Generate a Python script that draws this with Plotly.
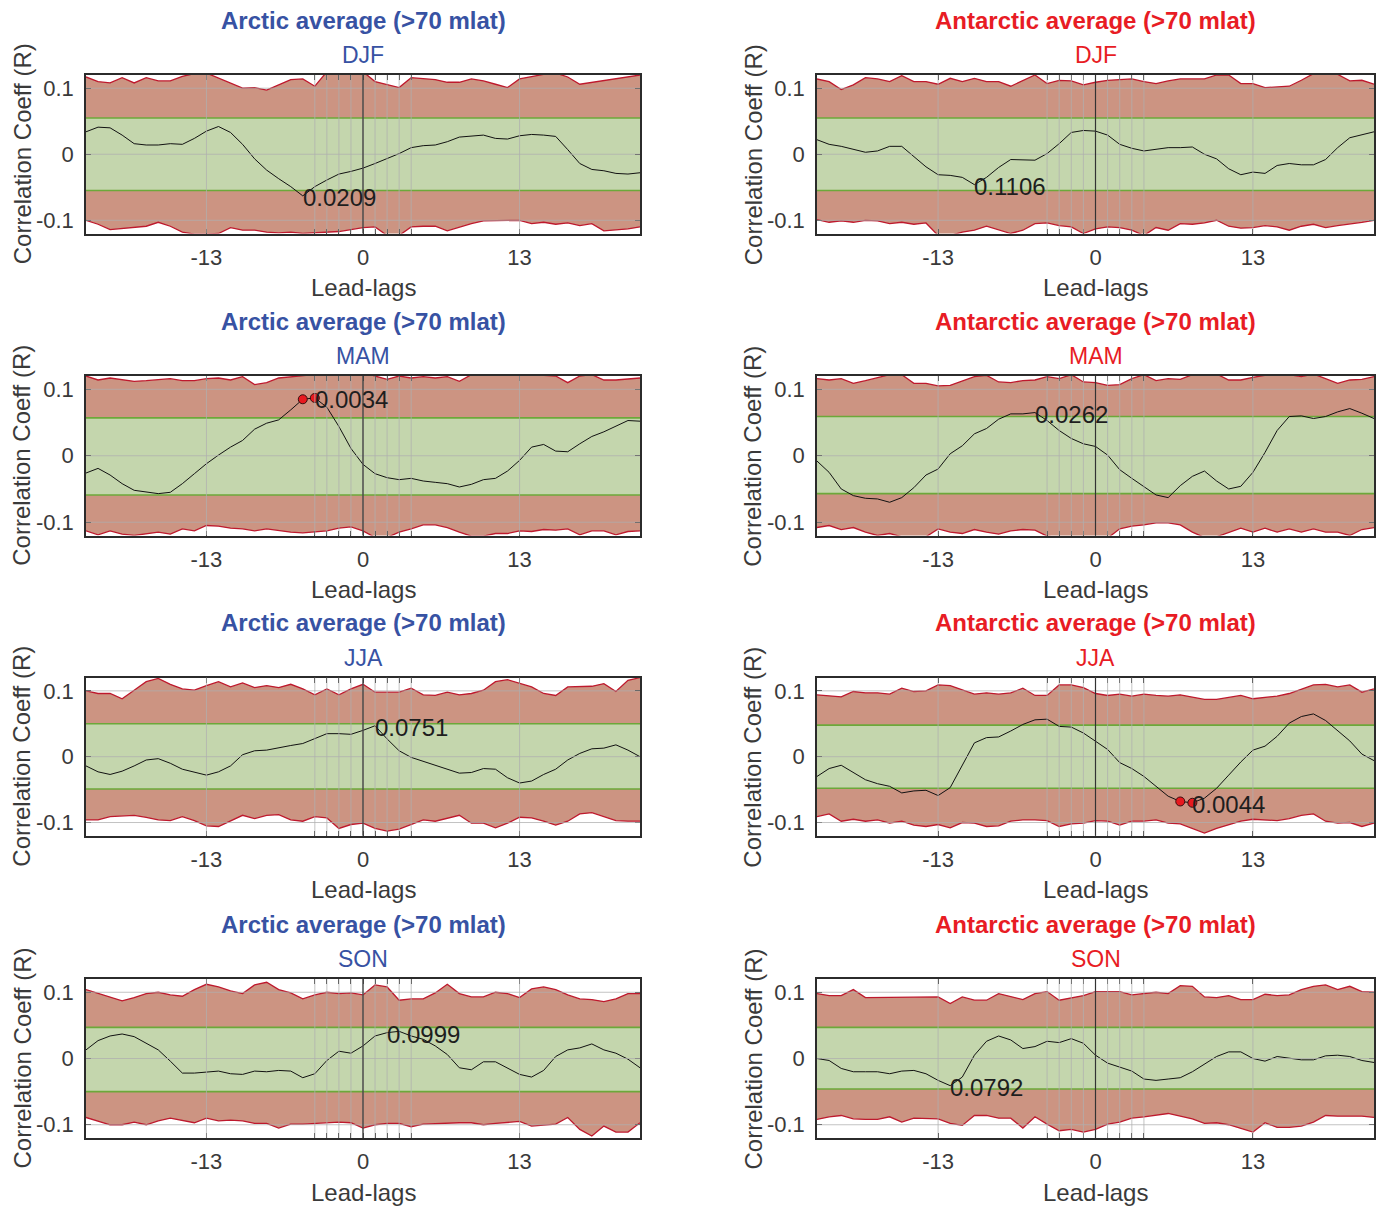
import plotly.graph_objects as go

# ---------------- data ----------------
LAGS = list(range(-23, 24))
XTICK_VALS = [-13, -4, -3, -2, -1, 0, 1, 2, 3, 4, 13]
XTICK_TEXT = ["-13", "", "", "", "", "0", "", "", "", "", "13"]
YTICK_VALS = [-0.1, 0, 0.1]
YTICK_TEXT = ["-0.1", "0", "0.1"]

REGION_TITLES = ["Arctic average (>70 mlat)", "Antarctic average (>70 mlat)"]
SEASONS = ["DJF", "MAM", "JJA", "SON"]

# correlation series (lags -23..23)
ARC_DJF_R = [0.034, 0.041, 0.040, 0.029, 0.016, 0.014, 0.014, 0.016, 0.015, 0.024,
             0.035, 0.042, 0.033, 0.015, -0.007, -0.024, -0.037, -0.049, -0.063, -0.049,
             -0.039, -0.030, -0.026, -0.021, -0.014, -0.007, 0.001, 0.010, 0.013, 0.014,
             0.019, 0.026, 0.028, 0.029, 0.024, 0.023, 0.028, 0.030, 0.029, 0.027,
             0.007, -0.014, -0.023, -0.025, -0.029, -0.030, -0.028]
ARC_DJF_UP = [0.117, 0.110, 0.108, 0.116, 0.108, 0.116, 0.111, 0.111, 0.118, 0.122,
              0.123, 0.115, 0.107, 0.100, 0.101, 0.097, 0.105, 0.113, 0.114, 0.103,
              0.125, 0.130, 0.130, 0.125, 0.110, 0.105, 0.101, 0.116, 0.115, 0.113,
              0.109, 0.109, 0.114, 0.111, 0.106, 0.101, 0.114, 0.118, 0.121, 0.123,
              0.117, 0.106, 0.109, 0.111, 0.114, 0.118, 0.120]
ARC_DJF_LO = [-0.100, -0.106, -0.114, -0.112, -0.110, -0.109, -0.103, -0.109, -0.118, -0.121,
              -0.121, -0.120, -0.111, -0.115, -0.115, -0.118, -0.119, -0.118, -0.120, -0.119,
              -0.119, -0.117, -0.114, -0.111, -0.110, -0.123, -0.123, -0.110, -0.109, -0.109,
              -0.116, -0.110, -0.105, -0.101, -0.101, -0.100, -0.100, -0.105, -0.103, -0.106,
              -0.104, -0.108, -0.105, -0.116, -0.115, -0.113, -0.110]

ANT_DJF_R = [0.022, 0.015, 0.012, 0.008, 0.003, 0.005, 0.012, 0.012, -0.004, -0.019,
             -0.031, -0.032, -0.035, -0.046, -0.035, -0.020, -0.008, -0.009, -0.009, 0.001,
             0.016, 0.033, 0.036, 0.035, 0.029, 0.015, 0.009, 0.005, 0.008, 0.010,
             0.010, 0.011, 0.000, -0.007, -0.022, -0.031, -0.027, -0.029, -0.017, -0.014,
             -0.016, -0.016, -0.008, 0.010, 0.025, 0.029, 0.034]
ANT_DJF_UP = [0.114, 0.110, 0.098, 0.105, 0.116, 0.114, 0.110, 0.119, 0.110, 0.110,
              0.106, 0.115, 0.110, 0.115, 0.110, 0.110, 0.103, 0.111, 0.120, 0.107,
              0.112, 0.111, 0.105, 0.109, 0.112, 0.113, 0.114, 0.110, 0.107, 0.111,
              0.114, 0.114, 0.114, 0.120, 0.120, 0.107, 0.107, 0.101, 0.102, 0.103,
              0.112, 0.122, 0.121, 0.121, 0.111, 0.112, 0.106]
ANT_DJF_LO = [-0.099, -0.103, -0.101, -0.103, -0.100, -0.101, -0.105, -0.103, -0.106, -0.104,
              -0.123, -0.123, -0.118, -0.115, -0.109, -0.114, -0.120, -0.115, -0.105, -0.104,
              -0.108, -0.110, -0.120, -0.113, -0.110, -0.111, -0.115, -0.123, -0.111, -0.115,
              -0.105, -0.106, -0.104, -0.100, -0.109, -0.112, -0.111, -0.108, -0.110, -0.115,
              -0.109, -0.106, -0.111, -0.108, -0.106, -0.103, -0.100]

ARC_MAM_R = [-0.026, -0.019, -0.029, -0.042, -0.052, -0.055, -0.057, -0.055, -0.042, -0.027,
             -0.012, 0.001, 0.013, 0.023, 0.040, 0.049, 0.054, 0.069, 0.085, 0.087,
             0.073, 0.044, 0.011, -0.013, -0.027, -0.033, -0.036, -0.034, -0.038, -0.040,
             -0.042, -0.047, -0.043, -0.036, -0.034, -0.023, -0.007, 0.013, 0.017, 0.007,
             0.006, 0.018, 0.029, 0.036, 0.045, 0.053, 0.052]
ARC_MAM_UP = [0.120, 0.114, 0.117, 0.115, 0.112, 0.113, 0.115, 0.116, 0.113, 0.113,
              0.116, 0.117, 0.114, 0.119, 0.107, 0.110, 0.117, 0.119, 0.121, 0.122,
              0.124, 0.124, 0.124, 0.125, 0.120, 0.115, 0.120, 0.117, 0.119, 0.117,
              0.119, 0.112, 0.122, 0.124, 0.125, 0.124, 0.124, 0.123, 0.121, 0.120,
              0.110, 0.120, 0.122, 0.114, 0.114, 0.116, 0.117]
ARC_MAM_LO = [-0.113, -0.119, -0.113, -0.118, -0.120, -0.118, -0.115, -0.118, -0.110, -0.113,
              -0.105, -0.106, -0.109, -0.110, -0.113, -0.110, -0.113, -0.115, -0.116, -0.115,
              -0.113, -0.109, -0.107, -0.113, -0.123, -0.123, -0.115, -0.110, -0.104, -0.104,
              -0.108, -0.115, -0.121, -0.121, -0.117, -0.117, -0.113, -0.114, -0.111, -0.112,
              -0.110, -0.119, -0.113, -0.113, -0.119, -0.114, -0.113]

ANT_MAM_R = [-0.008, -0.025, -0.050, -0.060, -0.064, -0.065, -0.070, -0.063, -0.048, -0.029,
             -0.020, 0.003, 0.015, 0.033, 0.041, 0.055, 0.063, 0.063, 0.065, 0.053,
             0.038, 0.026, 0.018, 0.014, 0.001, -0.021, -0.034, -0.046, -0.059, -0.063,
             -0.045, -0.031, -0.023, -0.038, -0.050, -0.046, -0.025, 0.005, 0.038, 0.059,
             0.060, 0.056, 0.059, 0.066, 0.071, 0.064, 0.056]
ANT_MAM_UP = [0.116, 0.114, 0.116, 0.109, 0.113, 0.118, 0.122, 0.122, 0.109, 0.109,
              0.105, 0.106, 0.113, 0.119, 0.121, 0.111, 0.110, 0.113, 0.114, 0.119,
              0.116, 0.122, 0.111, 0.110, 0.106, 0.107, 0.116, 0.122, 0.113, 0.116,
              0.115, 0.122, 0.123, 0.123, 0.114, 0.114, 0.118, 0.121, 0.122, 0.122,
              0.119, 0.123, 0.116, 0.109, 0.114, 0.115, 0.119]
ANT_MAM_LO = [-0.108, -0.105, -0.111, -0.108, -0.115, -0.120, -0.117, -0.122, -0.123, -0.122,
              -0.110, -0.115, -0.117, -0.111, -0.115, -0.118, -0.113, -0.111, -0.112, -0.121,
              -0.123, -0.124, -0.124, -0.124, -0.124, -0.110, -0.106, -0.104, -0.101, -0.101,
              -0.104, -0.115, -0.123, -0.122, -0.115, -0.109, -0.115, -0.109, -0.115, -0.110,
              -0.115, -0.110, -0.115, -0.115, -0.120, -0.111, -0.108]

ARC_JJA_R = [-0.014, -0.023, -0.027, -0.022, -0.014, -0.005, -0.003, -0.010, -0.019, -0.024,
             -0.028, -0.023, -0.014, 0.003, 0.009, 0.010, 0.014, 0.017, 0.020, 0.028,
             0.035, 0.035, 0.034, 0.040, 0.047, 0.027, 0.009, -0.001, -0.007, -0.013,
             -0.020, -0.025, -0.024, -0.018, -0.019, -0.032, -0.040, -0.037, -0.027, -0.019,
             -0.005, 0.005, 0.012, 0.013, 0.018, 0.010, 0.000]
ARC_JJA_UP = [0.100, 0.096, 0.096, 0.088, 0.101, 0.114, 0.119, 0.110, 0.103, 0.101,
              0.108, 0.114, 0.106, 0.112, 0.105, 0.108, 0.105, 0.110, 0.103, 0.094,
              0.103, 0.094, 0.103, 0.110, 0.098, 0.098, 0.098, 0.104, 0.094, 0.093,
              0.098, 0.094, 0.096, 0.101, 0.114, 0.117, 0.111, 0.106, 0.096, 0.093,
              0.106, 0.106, 0.107, 0.111, 0.099, 0.116, 0.120]
ARC_JJA_LO = [-0.096, -0.096, -0.091, -0.090, -0.089, -0.092, -0.096, -0.097, -0.091, -0.097,
              -0.105, -0.106, -0.097, -0.089, -0.094, -0.089, -0.088, -0.096, -0.098, -0.091,
              -0.093, -0.109, -0.103, -0.101, -0.109, -0.113, -0.110, -0.103, -0.096, -0.098,
              -0.094, -0.089, -0.101, -0.101, -0.108, -0.101, -0.092, -0.093, -0.098, -0.104,
              -0.098, -0.087, -0.085, -0.091, -0.097, -0.098, -0.098]

ANT_JJA_R = [-0.030, -0.018, -0.013, -0.024, -0.035, -0.041, -0.045, -0.055, -0.052, -0.051,
             -0.059, -0.047, -0.014, 0.021, 0.029, 0.030, 0.039, 0.049, 0.056, 0.057,
             0.046, 0.045, 0.036, 0.023, 0.011, -0.009, -0.018, -0.030, -0.045, -0.060,
             -0.068, -0.070, -0.063, -0.048, -0.028, -0.008, 0.010, 0.016, 0.031, 0.051,
             0.061, 0.065, 0.055, 0.040, 0.024, 0.004, -0.006]
ANT_JJA_UP = [0.094, 0.092, 0.091, 0.099, 0.097, 0.097, 0.095, 0.104, 0.099, 0.100,
              0.109, 0.108, 0.101, 0.095, 0.097, 0.095, 0.097, 0.104, 0.093, 0.093,
              0.109, 0.109, 0.105, 0.096, 0.093, 0.095, 0.092, 0.095, 0.093, 0.092,
              0.094, 0.090, 0.087, 0.087, 0.090, 0.093, 0.088, 0.090, 0.092, 0.096,
              0.103, 0.109, 0.110, 0.106, 0.109, 0.098, 0.103]
ANT_JJA_LO = [-0.091, -0.087, -0.098, -0.095, -0.098, -0.096, -0.101, -0.098, -0.104, -0.106,
              -0.103, -0.108, -0.100, -0.101, -0.106, -0.105, -0.098, -0.096, -0.096, -0.097,
              -0.106, -0.102, -0.101, -0.097, -0.098, -0.104, -0.098, -0.098, -0.096, -0.101,
              -0.102, -0.109, -0.116, -0.109, -0.104, -0.098, -0.095, -0.096, -0.097, -0.094,
              -0.089, -0.087, -0.098, -0.101, -0.100, -0.106, -0.101]

ARC_SON_R = [0.013, 0.027, 0.034, 0.037, 0.033, 0.023, 0.013, -0.004, -0.022, -0.022,
             -0.021, -0.019, -0.023, -0.024, -0.019, -0.020, -0.018, -0.019, -0.029, -0.023,
             -0.003, 0.011, 0.008, 0.019, 0.034, 0.039, 0.041, 0.034, 0.029, 0.019,
             0.006, -0.014, -0.017, -0.005, -0.005, -0.015, -0.024, -0.028, -0.018, 0.003,
             0.013, 0.016, 0.022, 0.013, 0.008, -0.001, -0.014]
ARC_SON_UP = [0.104, 0.098, 0.092, 0.087, 0.092, 0.098, 0.100, 0.096, 0.094, 0.104,
              0.112, 0.108, 0.102, 0.098, 0.111, 0.115, 0.104, 0.099, 0.090, 0.096,
              0.100, 0.098, 0.099, 0.096, 0.111, 0.108, 0.088, 0.090, 0.090, 0.099,
              0.112, 0.098, 0.093, 0.093, 0.100, 0.098, 0.092, 0.105, 0.108, 0.104,
              0.096, 0.090, 0.089, 0.086, 0.090, 0.098, 0.098]
ARC_SON_LO = [-0.089, -0.094, -0.100, -0.100, -0.096, -0.100, -0.094, -0.090, -0.093, -0.097,
              -0.090, -0.094, -0.093, -0.094, -0.098, -0.098, -0.105, -0.099, -0.099, -0.098,
              -0.098, -0.096, -0.097, -0.105, -0.100, -0.098, -0.098, -0.103, -0.099, -0.098,
              -0.098, -0.097, -0.097, -0.100, -0.098, -0.096, -0.095, -0.102, -0.101, -0.099,
              -0.089, -0.107, -0.117, -0.102, -0.111, -0.111, -0.097]

ANT_SON_R = [0.000, -0.003, -0.015, -0.020, -0.020, -0.020, -0.023, -0.019, -0.018, -0.023,
             -0.033, -0.041, -0.028, 0.005, 0.026, 0.034, 0.028, 0.015, 0.018, 0.026,
             0.024, 0.030, 0.023, 0.005, -0.007, -0.013, -0.019, -0.031, -0.033, -0.031,
             -0.029, -0.020, -0.009, 0.003, 0.010, 0.010, 0.000, -0.004, 0.003, 0.001,
             -0.002, -0.002, 0.004, 0.005, 0.003, -0.003, -0.006]
ANT_SON_UP = [0.098, 0.095, 0.095, 0.104, 0.092, 0.092, 0.092, 0.092, 0.093, 0.092,
              0.093, 0.083, 0.093, 0.088, 0.088, 0.098, 0.094, 0.089, 0.098, 0.101,
              0.088, 0.092, 0.095, 0.101, 0.101, 0.101, 0.096, 0.098, 0.100, 0.098,
              0.110, 0.109, 0.093, 0.092, 0.095, 0.089, 0.089, 0.097, 0.095, 0.096,
              0.104, 0.109, 0.111, 0.104, 0.109, 0.101, 0.100]
ANT_SON_LO = [-0.092, -0.088, -0.086, -0.091, -0.092, -0.092, -0.088, -0.096, -0.090, -0.091,
              -0.091, -0.098, -0.101, -0.086, -0.086, -0.090, -0.090, -0.105, -0.088, -0.099,
              -0.109, -0.107, -0.111, -0.107, -0.099, -0.096, -0.090, -0.088, -0.085, -0.083,
              -0.087, -0.091, -0.098, -0.097, -0.100, -0.105, -0.111, -0.097, -0.104, -0.104,
              -0.102, -0.096, -0.086, -0.087, -0.087, -0.087, -0.089]

# inner (green) band levels per panel, order: DJF, MAM, JJA, SON
GREEN_HI = {"ARC": [0.055, 0.057, 0.050, 0.047], "ANT": [0.055, 0.059, 0.048, 0.047]}
GREEN_LO = {"ARC": [-0.055, -0.059, -0.049, -0.050], "ANT": [-0.055, -0.057, -0.048, -0.046]}

# labelled point (p-value text) and significant points per panel
ANNOT_TEXT = {"ARC": ["0.0209", "0.0034", "0.0751", "0.0999"],
              "ANT": ["0.1106", "0.0262", "0.0044", "0.0792"]}
ANNOT_LAG = {"ARC": [-5, -4, 1, 2], "ANT": [-10, -5, 8, -12]}
SIG_LAGS = {"ARC": [[], [-5, -4], [], []], "ANT": [[], [], [7, 8], []]}

SERIES = {
    "ARC": [(ARC_DJF_R, ARC_DJF_UP, ARC_DJF_LO), (ARC_MAM_R, ARC_MAM_UP, ARC_MAM_LO),
            (ARC_JJA_R, ARC_JJA_UP, ARC_JJA_LO), (ARC_SON_R, ARC_SON_UP, ARC_SON_LO)],
    "ANT": [(ANT_DJF_R, ANT_DJF_UP, ANT_DJF_LO), (ANT_MAM_R, ANT_MAM_UP, ANT_MAM_LO),
            (ANT_JJA_R, ANT_JJA_UP, ANT_JJA_LO), (ANT_SON_R, ANT_SON_UP, ANT_SON_LO)],
}

# ---------------- styling ----------------
W, H = 1380, 1206
COL_X = [(86, 640), (817, 1374)]
ROW_Y = [(75, 233.5), (376, 535.5), (677.7, 835.7), (979, 1138)]
TITLE_COLORS = ["#3752a3", "#e81c24"]
RED_FILL = "rgb(204,148,130)"
RED_EDGE = "rgb(190,25,45)"
GREEN_FILL = "rgb(196,214,173)"
GREEN_EDGE = "rgb(108,168,58)"
AX_COLOR = "#2b2b2b"
TXT_COLOR = "#3a3a3a"
GRID_COLOR = "rgba(175,175,175,0.75)"
FONT = "Liberation Sans, Arial, sans-serif"

fig = go.Figure()
layout = dict(width=W, height=H, margin=dict(l=0, r=0, t=0, b=0),
              paper_bgcolor="white", plot_bgcolor="white", showlegend=False,
              font=dict(family=FONT, color=TXT_COLOR))
annotations = []
shapes = []

k = 0
for r, season in enumerate(SEASONS):
    for c, reg in enumerate(["ARC", "ANT"]):
        k += 1
        suf = "" if k == 1 else str(k)
        xa, ya = f"x{suf}", f"y{suf}"
        rr, up, lo = SERIES[reg][r]
        ghi, glo = GREEN_HI[reg][r], GREEN_LO[reg][r]
        n = len(LAGS)
        common = dict(xaxis=xa, yaxis=ya, showlegend=False, hoverinfo="skip")
        # outer (red) band
        fig.add_trace(go.Scatter(x=LAGS, y=lo, mode="lines",
                                 line=dict(color=RED_EDGE, width=1.3), **common))
        fig.add_trace(go.Scatter(x=LAGS, y=up, mode="lines", fill="tonexty",
                                 fillcolor=RED_FILL,
                                 line=dict(color=RED_EDGE, width=1.3), **common))
        # inner (green) band
        fig.add_trace(go.Scatter(x=LAGS, y=[glo] * n, mode="lines",
                                 line=dict(color=GREEN_EDGE, width=1.6), **common))
        fig.add_trace(go.Scatter(x=LAGS, y=[ghi] * n, mode="lines", fill="tonexty",
                                 fillcolor=GREEN_FILL,
                                 line=dict(color=GREEN_EDGE, width=1.6), **common))
        # correlation line
        fig.add_trace(go.Scatter(x=LAGS, y=rr, mode="lines",
                                 line=dict(color="#111111", width=1), **common))
        sig = SIG_LAGS[reg][r]
        if sig:
            fig.add_trace(go.Scatter(x=sig, y=[rr[LAGS.index(s)] for s in sig],
                                     mode="markers",
                                     marker=dict(color="#e8191f", size=9,
                                                 line=dict(color="#3a1010", width=1)),
                                     **common))
        # annotation text
        al = ANNOT_LAG[reg][r]
        annotations.append(dict(x=al, y=rr[LAGS.index(al)], xref=xa, yref=ya,
                                text=ANNOT_TEXT[reg][r], showarrow=False,
                                xanchor="left", yanchor="middle", yshift=-2, xshift=-2,
                                font=dict(size=24, color="#1e1e1e")))

        x0, x1 = COL_X[c]
        y0, y1 = ROW_Y[r]
        layout[f"xaxis{suf}"] = dict(domain=[x0 / W, x1 / W], anchor=ya, range=[-23, 23],
                                     tickvals=XTICK_VALS, ticktext=XTICK_TEXT,
                                     ticks="inside", ticklen=5, tickwidth=1.3,
                                     tickcolor=AX_COLOR, showline=True, linecolor=AX_COLOR,
                                     linewidth=1.6, mirror="allticks", showgrid=False,
                                     zeroline=False, layer="above traces",
                                     tickfont=dict(size=22, color=TXT_COLOR),
                                     ticklabelstandoff=3, fixedrange=True)
        layout[f"yaxis{suf}"] = dict(domain=[1 - y1 / H, 1 - y0 / H], anchor=xa,
                                     range=[-0.12, 0.12],
                                     tickvals=YTICK_VALS, ticktext=YTICK_TEXT,
                                     ticks="inside", ticklen=5, tickwidth=1.3,
                                     tickcolor=AX_COLOR, showline=True, linecolor=AX_COLOR,
                                     linewidth=1.6, mirror="allticks", showgrid=False,
                                     zeroline=False, layer="above traces",
                                     tickfont=dict(size=22, color=TXT_COLOR),
                                     ticklabelstandoff=6, fixedrange=True)
        # grid lines drawn above the bands
        for v in XTICK_VALS:
            shapes.append(dict(type="line", xref=xa, yref=f"{ya} domain", x0=v, x1=v,
                               y0=0, y1=1, layer="above",
                               line=dict(color=GRID_COLOR, width=1)))
        for v in YTICK_VALS:
            shapes.append(dict(type="line", xref=f"{xa} domain", yref=ya, x0=0, x1=1,
                               y0=v, y1=v, layer="above",
                               line=dict(color=GRID_COLOR, width=1)))
        # zero-lag line
        shapes.append(dict(type="line", xref=xa, yref=f"{ya} domain", x0=0, x1=0,
                           y0=0, y1=1, layer="above",
                           line=dict(color="#333333", width=1.2)))

        # titles
        xc = (x0 + x1) / 2 / W
        annotations.append(dict(x=xc, y=1 - (y0 - 55) / H, xref="paper", yref="paper",
                                text=f"<b>{REGION_TITLES[c]}</b>", showarrow=False,
                                xanchor="center", yanchor="middle",
                                font=dict(size=24, color=TITLE_COLORS[c])))
        annotations.append(dict(x=xc, y=1 - (y0 - 20) / H, xref="paper", yref="paper",
                                text=season, showarrow=False,
                                xanchor="center", yanchor="middle",
                                font=dict(size=23, color=TITLE_COLORS[c])))
        # axis titles
        annotations.append(dict(x=xc, y=1 - (y1 + 54) / H, xref="paper", yref="paper",
                                text="Lead-lags", showarrow=False,
                                xanchor="center", yanchor="middle",
                                font=dict(size=24, color=TXT_COLOR)))
        annotations.append(dict(x=(x0 - 64) / W, y=1 - (y0 + y1) / 2 / H, xref="paper",
                                yref="paper", text="Correlation Coeff (R)",
                                showarrow=False, textangle=-90,
                                xanchor="center", yanchor="middle",
                                font=dict(size=24, color=TXT_COLOR)))

layout["annotations"] = annotations
layout["shapes"] = shapes
fig.update_layout(**layout)
fig.write_html("out.html")
